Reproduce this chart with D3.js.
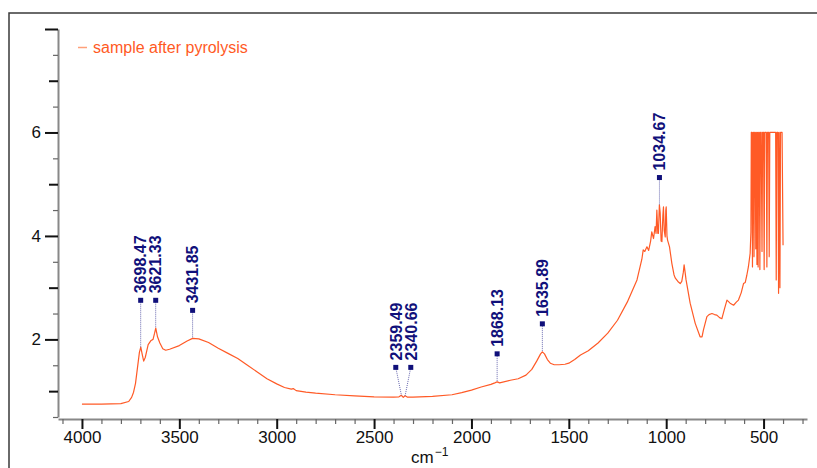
<!DOCTYPE html>
<html><head><meta charset="utf-8">
<script src="https://cdn.jsdelivr.net/npm/d3@7"></script>
<style>body{margin:0;background:#fff}svg{display:block}</style>
</head><body><svg id="c" width="817" height="468"></svg>
<script>
// ---- data ----
const wavenumbers = [4000,3900,3800,3760,3745,3735,3725,3715,3705,3698,3690,3683,3675,3660,3645,3635,3627,3621,3612,3600,3585,3570,3550,3500,3460,3432,3400,3350,3300,3250,3200,3150,3100,3050,3000,2960,2925,2915,2900,2850,2800,2700,2600,2500,2400,2372,2360,2350,2341,2330,2300,2200,2100,2050,2000,1950,1900,1880,1868,1855,1800,1760,1720,1690,1665,1645,1636,1625,1610,1595,1575,1550,1520,1500,1470,1440,1400,1350,1300,1250,1200,1150,1125,1118,1110,1099,1090,1080,1074,1065,1057,1052,1048,1043,1040,1035,1031,1026,1022,1017,1014,1010,1005,1002,1000,996,993,983,971,960,954,940,928,920,912,908,903,898,877,851,826,816,809,791,780,765,752,740,726,714,700,688,672,654,640,629,615,603,594,586,578,569,565,563,560,557,554,552,549,546,543,540,537,534,531,528,525,522,519,516,512,508,505,500,497,494,490,486,483,480,474,471,468,460,450,438,435,432,426,423,420,416,413,405,400];
const absorbance = [0.75,0.75,0.76,0.80,0.88,0.98,1.15,1.45,1.75,1.85,1.70,1.58,1.65,1.90,1.98,2.00,2.12,2.22,2.05,1.93,1.82,1.79,1.81,1.88,1.97,2.02,2.01,1.94,1.83,1.73,1.63,1.50,1.37,1.24,1.14,1.07,1.04,1.05,1.01,0.98,0.96,0.93,0.91,0.89,0.885,0.89,0.92,0.88,0.91,0.885,0.885,0.90,0.93,0.97,1.02,1.08,1.13,1.16,1.18,1.16,1.21,1.24,1.31,1.42,1.58,1.72,1.76,1.72,1.61,1.54,1.51,1.51,1.52,1.54,1.61,1.70,1.78,1.93,2.12,2.37,2.72,3.15,3.55,3.73,3.70,3.79,3.72,3.90,4.08,3.95,4.18,4.05,4.50,4.05,4.05,4.60,4.45,3.90,3.89,4.40,4.56,4.10,3.98,4.50,4.56,4.00,3.92,3.79,3.47,3.25,3.19,3.12,3.08,3.12,3.30,3.44,3.30,3.15,2.70,2.31,2.05,2.05,2.18,2.44,2.48,2.50,2.48,2.47,2.42,2.40,2.60,2.76,2.70,2.66,2.72,2.76,2.90,3.08,3.10,3.24,3.40,3.66,4.08,6.0,6.0,3.40,6.0,6.0,3.60,6.0,6.0,3.75,6.0,3.45,6.0,3.40,6.0,6.0,3.35,6.0,6.0,3.70,6.0,6.0,3.35,6.0,6.0,6.0,3.40,6.0,6.0,3.60,6.0,6.0,6.0,6.0,3.15,6.0,6.0,2.89,6.0,3.00,6.0,6.0,3.82];
const peakLabels = [3698.47, 3621.33, 3431.85, 2359.49, 2340.66, 1868.13, 1635.89, 1034.67];
const seriesName = "sample after pyrolysis";
const xTickValues = [4100,4000,3900,3800,3700,3600,3500,3400,3300,3200,3100,3000,2900,2800,2700,2600,2500,2400,2300,2200,2100,2000,1900,1800,1700,1600,1500,1400,1300,1200,1100,1000,900,800,700,600,500,400,300];
const xLabelTicks = [4000,3500,3000,2500,2000,1500,1000,500];
const yTickValues = [0.5,1,1.5,2,2.5,3,3.5,4,4.5,5,5.5,6,6.5,7,7.5,8];
const yLabelTicks = [2,4,6];
const xTitle = "cm";
const xTitleSup = "\u22121";

// ---- drawing ----
const FONT = "'Liberation Sans', Arial, sans-serif";
const svg = d3.select("#c");
const x = d3.scaleLinear().domain([4123, 277]).range([58, 807]);
const y = d3.scaleLinear().domain([0.5, 8]).range([417, 29]);

// frame (top & left edges)
svg.append("path").attr("d", "M9,468 V13 H817").attr("fill", "none")
  .attr("stroke", "#3a3a3a").attr("stroke-width", 1.5);

// y axis
const yAxis = d3.axisLeft(y).tickValues(yTickValues).tickSizeOuter(0)
  .tickFormat(d => yLabelTicks.includes(d) ? d3.format("d")(d) : "");
const gy = svg.append("g").attr("transform", "translate(58,0)").call(yAxis);
gy.select(".domain").attr("stroke", "#888").attr("stroke-width", 2);
gy.selectAll(".tick line")
  .attr("x2", d => d % 2 === 0 ? -13 : (d % 1 === 0 ? -9 : -5))
  .attr("stroke", d => d % 1 === 0 ? "#111" : "#666")
  .attr("stroke-width", d => d % 1 === 0 ? 2 : 1.2);
gy.selectAll(".tick text").attr("x", -17).attr("font-family", FONT)
  .attr("font-size", 17).attr("fill", "#111");

// x axis
const xAxis = d3.axisBottom(x).tickValues(xTickValues).tickSizeOuter(0)
  .tickFormat(d => xLabelTicks.includes(d) ? d : "");
const gx = svg.append("g").attr("transform", "translate(0,419)").call(xAxis);
gx.select(".domain").attr("stroke", "#888").attr("stroke-width", 2);
gx.selectAll(".tick line")
  .attr("y2", d => xLabelTicks.includes(d) ? 10 : 5)
  .attr("stroke", d => xLabelTicks.includes(d) ? "#111" : "#666")
  .attr("stroke-width", d => xLabelTicks.includes(d) ? 2 : 1.2);
gx.selectAll(".tick text").attr("y", 12).attr("font-family", FONT)
  .attr("font-size", 17).attr("fill", "#111");

// x title
const tt = svg.append("text").attr("x", 411).attr("y", 463)
  .attr("font-family", FONT).attr("font-size", 17).attr("fill", "#111");
tt.append("tspan").text(xTitle);
tt.append("tspan").attr("dy", -7).attr("dx", 1).attr("font-size", 12).text(xTitleSup);

// spectrum line
const pts = wavenumbers.map((w, i) => [w, absorbance[i]]);
svg.append("path").datum(pts)
  .attr("fill", "none").attr("stroke", "#ff5a26").attr("stroke-width", 1.2)
  .attr("stroke-linejoin", "round")
  .attr("d", d3.line().x(d => x(d[0])).y(d => y(d[1])));

// legend
svg.append("line").attr("x1", 78).attr("x2", 87).attr("y1", 47.5).attr("y2", 47.5)
  .attr("stroke", "#ffa07a").attr("stroke-width", 1.5);
svg.append("text").attr("x", 93).attr("y", 53).text(seriesName)
  .attr("font-family", FONT).attr("font-size", 16).attr("fill", "#ff5a1f");

// peak labels
function valueAt(w) {
  for (let i = 0; i < pts.length - 1; i++) {
    const a = pts[i], b = pts[i + 1];
    if (w <= a[0] && w >= b[0]) {
      const t = (a[0] - w) / (a[0] - b[0]);
      return a[1] + t * (b[1] - a[1]);
    }
  }
  return pts[pts.length - 1][1];
}
const labs = peakLabels.map(w => ({ w, px: x(w), py: y(valueAt(w)) }));
labs.forEach(l => { l.lx = l.px; l.my = l.py - 28; });
// spread close labels horizontally and align their heights
const minGap = 15;
labs.sort((a, b) => a.px - b.px);
let groups = [];
labs.forEach(l => {
  const g = groups[groups.length - 1];
  if (g && l.px - g[g.length - 1].px < minGap + 3) g.push(l); else groups.push([l]);
});
groups.forEach(g => {
  const c = d3.mean(g, d => d.px);
  const n = g.length;
  const my = d3.min(g, d => d.my);
  const span = g[n - 1].px - g[0].px;
  g.forEach((d, i) => {
    d.lx = n > 1 && span < minGap * (n - 1) ? c + (i - (n - 1) / 2) * minGap : d.px;
    d.my = my;
  });
});
const gl = svg.append("g");
labs.forEach(l => {
  gl.append("line").attr("x1", l.lx).attr("y1", l.my).attr("x2", l.px).attr("y2", l.py)
    .attr("stroke", "#6a6ab0").attr("stroke-width", 1).attr("stroke-dasharray", "1,1");
  gl.append("rect").attr("x", l.lx - 2.5).attr("y", l.my - 2.5).attr("width", 5).attr("height", 5)
    .attr("fill", "#10107a");
  gl.append("text").attr("transform", `translate(${l.lx + 5.8},${l.my - 7}) rotate(-90)`)
    .attr("font-family", FONT).attr("font-weight", "bold").attr("font-size", 16)
    .attr("fill", "#10107a").text(d3.format(".2f")(l.w));
});
</script></body></html>
